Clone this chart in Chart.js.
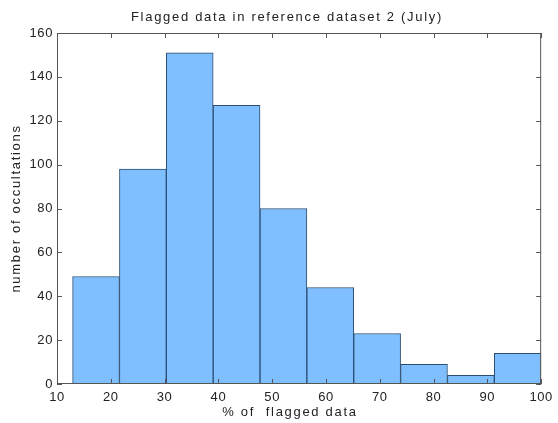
<!DOCTYPE html>
<html>
<head>
<meta charset="utf-8">
<script src="https://cdn.jsdelivr.net/npm/chart.js@4"></script>
<style>
  html, body { margin: 0; padding: 0; background: #fff; }
  #wrap { width: 558px; height: 423px; }
  #hist { filter: blur(0.5px); }
</style>
</head>
<body>
<div id="wrap"><canvas id="hist"></canvas></div>
<script>
// histogram bin edges (% of flagged data) and counts per bin
const binEdges = [12.9, 21.61, 30.32, 39.03, 47.74, 56.45, 65.16, 73.87, 82.58, 91.29, 100];
const counts = [49, 98, 151, 127, 80, 44, 23, 9, 4, 14];
const xTicks = [10, 20, 30, 40, 50, 60, 70, 80, 90, 100];
const yTicks = [0, 20, 40, 60, 80, 100, 120, 140, 160];

const titleText = "Flagged data in reference dataset 2 (July)";
const xTitle = "% of  flagged data";
const yTitle = "number of occultations";

const FONT = "'Liberation Sans', Arial, sans-serif";
const INK = "#222";
const AXIS = "#555";

// bar at the middle of each bin
const bars = counts.map((c, i) => ({ x: (binEdges[i] + binEdges[i + 1]) / 2, y: c }));

// matlab style box with inward ticks on all four sides
const boxAxes = {
  id: "boxAxes",
  beforeDraw(chart) {
    chart.ctx.letterSpacing = "0.6px";
  },
  afterDatasetsDraw(chart) {
    const { ctx, chartArea: a, scales } = chart;
    const len = 5;
    ctx.save();
    ctx.strokeStyle = AXIS;
    ctx.lineWidth = 1;
    ctx.beginPath();
    ctx.rect(a.left + 0.5, a.top + 0.5, a.right - a.left - 1, a.bottom - a.top - 1);
    xTicks.forEach((v) => {
      const px = Math.round(scales.x.getPixelForValue(v)) + 0.5;
      ctx.moveTo(px, a.bottom); ctx.lineTo(px, a.bottom - len);
      ctx.moveTo(px, a.top); ctx.lineTo(px, a.top + len);
    });
    yTicks.forEach((v) => {
      const py = Math.round(scales.y.getPixelForValue(v)) + 0.5;
      ctx.moveTo(a.left, py); ctx.lineTo(a.left + len, py);
      ctx.moveTo(a.right, py); ctx.lineTo(a.right - len, py);
    });
    ctx.stroke();
    ctx.restore();
  },
  afterDraw(chart) {
    const { ctx, chartArea: a } = chart;
    const midY = (a.top + a.bottom) / 2;
    ctx.save();
    ctx.fillStyle = INK;
    ctx.font = "13px " + FONT;
    ctx.letterSpacing = "1.7px";
    ctx.textAlign = "center";
    ctx.textBaseline = "middle";
    ctx.fillText(titleText, 287, 17);
    ctx.fillText(xTitle, 290, 412);
    ctx.translate(16, midY);
    ctx.rotate(-Math.PI / 2);
    ctx.fillText(yTitle, 0, 0);
    ctx.restore();
  }
};

new Chart(document.getElementById("hist"), {
  type: "bar",
  data: {
    datasets: [{
      data: bars,
      backgroundColor: "#80bfff",
      borderColor: "#2b4d70",
      borderWidth: 1,
      barPercentage: 1,
      categoryPercentage: 1,
      grouped: false
    }]
  },
  options: {
    responsive: true,
    maintainAspectRatio: false,
    animation: false,
    layout: { padding: { left: 0, right: 14, top: 33, bottom: 0 } },
    plugins: {
      legend: { display: false },
      tooltip: { enabled: false },
      title: { display: false }
    },
    scales: {
      x: {
        type: "linear",
        min: 10,
        max: 100,
        offset: false,
        afterBuildTicks: (s) => { s.ticks = xTicks.map((v) => ({ value: v })); },
        afterFit: (s) => { s.height = 39; },
        grid: { display: false, drawTicks: false },
        border: { display: false },
        ticks: {
          color: INK,
          padding: 6,
          maxRotation: 0,
          font: { family: FONT, size: 13 }
        }
      },
      y: {
        min: 0,
        max: 160,
        afterBuildTicks: (s) => { s.ticks = yTicks.map((v) => ({ value: v })); },
        afterFit: (s) => { s.width = 57; },
        grid: { display: false, drawTicks: false },
        border: { display: false },
        ticks: {
          color: INK,
          padding: 4,
          font: { family: FONT, size: 13 }
        }
      }
    }
  },
  plugins: [boxAxes]
});
</script>
</body>
</html>
